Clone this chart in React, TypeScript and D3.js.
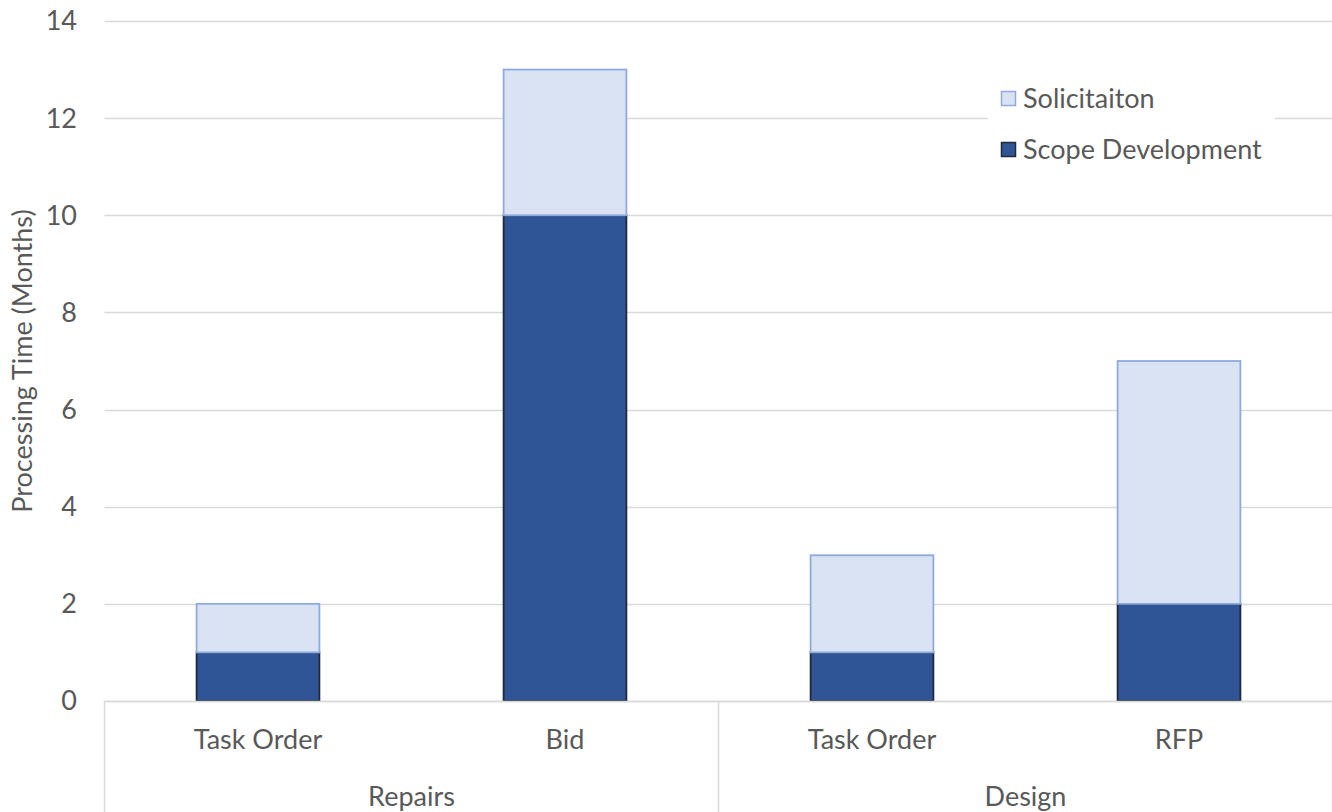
import React, { useEffect, useRef } from 'react';
import * as d3 from 'd3';

const categories = ['Task Order', 'Bid', 'Task Order', 'RFP'];
const groups = ['Repairs', 'Repairs', 'Design', 'Design'];
const scopeDevelopment = [1, 10, 1, 2];
const solicitation = [1, 3, 2, 5];
const yTicks = [0, 2, 4, 6, 8, 10, 12, 14];
const seriesNames = ['Solicitaiton', 'Scope Development'];

const W = 1332;
const H = 812;
const FONT = 'Lato, "Open Sans", sans-serif';
const FS = 27;

const App: React.FC = () => {
  const ref = useRef<SVGSVGElement | null>(null);

  useEffect(() => {
    if (!ref.current) return;
    const svg = d3.select(ref.current);
    svg.selectAll('*').remove();

    const left = 104.5;
    const right = 1332.5;
    const top = 21;
    const bottom = 701;

    const x = d3.scaleBand<number>()
      .domain(d3.range(categories.length))
      .range([left, right])
      .paddingInner(0.6)
      .paddingOuter(0.3);

    const y = d3.scaleLinear().domain([0, 14]).range([bottom, top]);

    // gridlines
    svg.append('g')
      .selectAll('line')
      .data(yTicks)
      .enter().append('line')
      .attr('x1', left)
      .attr('x2', right)
      .attr('y1', d => Math.round(y(d)) + 0.5)
      .attr('y2', d => Math.round(y(d)) + 0.5)
      .attr('stroke', '#d9d9d9')
      .attr('stroke-width', 1.5);

    // y tick labels
    svg.append('g')
      .selectAll('text')
      .data(yTicks)
      .enter().append('text')
      .attr('x', 77)
      .attr('y', d => y(d))
      .attr('dy', '0.35em')
      .attr('text-anchor', 'end')
      .attr('font-family', FONT)
      .attr('font-size', FS)
      .attr('fill', '#595959')
      .text(d => d);

    // y axis title
    svg.append('text')
      .attr('transform', `translate(32, ${(top + bottom) / 2}) rotate(-90)`)
      .attr('text-anchor', 'middle')
      .attr('font-family', FONT)
      .attr('font-size', FS)
      .attr('fill', '#595959')
      .text('Processing Time (Months)');

    const idx = d3.range(categories.length);

    // scope development (bottom)
    svg.append('g')
      .selectAll('rect')
      .data(idx)
      .enter().append('rect')
      .attr('x', i => x(i)!)
      .attr('width', x.bandwidth())
      .attr('y', i => y(scopeDevelopment[i]))
      .attr('height', i => y(0) - y(scopeDevelopment[i]))
      .attr('fill', '#2f5597')
      .attr('stroke', '#1f2a3a')
      .attr('stroke-width', 1.8);

    // solicitation (top)
    svg.append('g')
      .selectAll('rect')
      .data(idx)
      .enter().append('rect')
      .attr('x', i => x(i)!)
      .attr('width', x.bandwidth())
      .attr('y', i => y(scopeDevelopment[i] + solicitation[i]))
      .attr('height', i => y(scopeDevelopment[i]) - y(scopeDevelopment[i] + solicitation[i]))
      .attr('fill', '#dae3f3')
      .attr('stroke', '#8faadc')
      .attr('stroke-width', 1.8);

    // x axis line and separators
    const axis = svg.append('g').attr('stroke', '#d9d9d9').attr('stroke-width', 1.5);
    axis.append('line')
      .attr('x1', left).attr('x2', right)
      .attr('y1', bottom + 0.5).attr('y2', bottom + 0.5);
    const seps = [left, (x(1)! + x(2)! + x.bandwidth()) / 2, right];
    axis.selectAll('line.sep')
      .data(seps)
      .enter().append('line')
      .attr('class', 'sep')
      .attr('x1', d => d).attr('x2', d => d)
      .attr('y1', bottom).attr('y2', H);

    // category labels
    svg.append('g')
      .selectAll('text')
      .data(idx)
      .enter().append('text')
      .attr('x', i => x(i)! + x.bandwidth() / 2)
      .attr('y', 740)
      .attr('dy', '0.35em')
      .attr('text-anchor', 'middle')
      .attr('font-family', FONT)
      .attr('font-size', FS)
      .attr('fill', '#595959')
      .text(i => categories[i]);

    // group labels
    const groupNames = Array.from(new Set(groups));
    svg.append('g')
      .selectAll('text')
      .data(groupNames)
      .enter().append('text')
      .attr('x', g => {
        const members = idx.filter(i => groups[i] === g);
        return d3.mean(members, i => x(i)! + x.bandwidth() / 2)!;
      })
      .attr('y', 797)
      .attr('dy', '0.35em')
      .attr('text-anchor', 'middle')
      .attr('font-family', FONT)
      .attr('font-size', FS)
      .attr('fill', '#595959')
      .text(g => g);

    // legend
    const legend = svg.append('g');
    legend.append('rect')
      .attr('x', 988).attr('y', 75)
      .attr('width', 287).attr('height', 98)
      .attr('fill', '#ffffff');
    const legendFill = ['#dae3f3', '#2f5597'];
    const legendStroke = ['#8faadc', '#1f2a3a'];
    seriesNames.forEach((name, i) => {
      const cy = 99 + i * 51;
      legend.append('rect')
        .attr('x', 1001.5).attr('y', cy - 7.5)
        .attr('width', 14).attr('height', 14)
        .attr('fill', legendFill[i])
        .attr('stroke', legendStroke[i])
        .attr('stroke-width', 1.5);
      legend.append('text')
        .attr('x', 1023).attr('y', cy)
        .attr('dy', '0.35em')
        .attr('font-family', FONT)
        .attr('font-size', FS)
        .attr('fill', '#595959')
        .text(name);
    });
  }, []);

  return <svg ref={ref} width={W} height={H} style={{ display: 'block', position: 'absolute', left: 0, top: 0 }} />;
};

export default App;
